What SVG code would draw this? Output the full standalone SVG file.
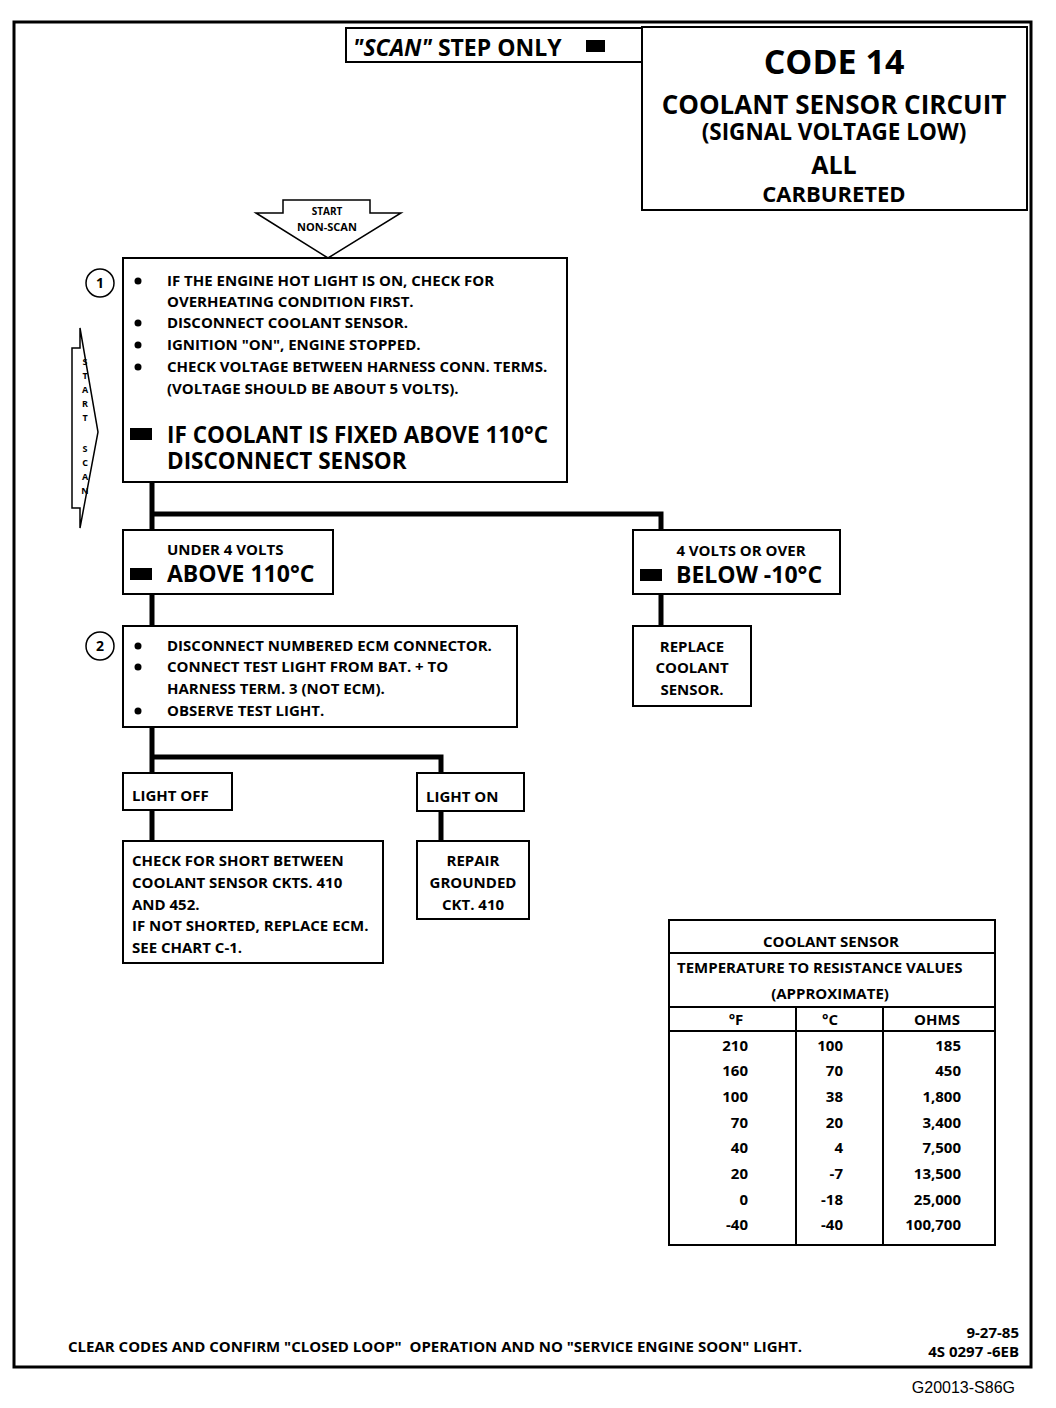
<svg xmlns="http://www.w3.org/2000/svg" width="1056" height="1408" viewBox="0 0 1056 1408">
<style>
text{font-family:"Open Sans","Liberation Sans",sans-serif;font-weight:bold;fill:#000}
.box{fill:#fff;stroke:#000;stroke-width:2}
.conn{fill:none;stroke:#000;stroke-width:5}
.s{font-size:15px}
.b{font-size:23px}
.c{text-anchor:middle}
.r{text-anchor:end}
.blk{fill:#000}
</style>
<rect width="1056" height="1408" fill="#fff"/>
<path d="M14 1367 V22 H1031 V1367 Z" fill="none" stroke="#000" stroke-width="3"/>
<g id="scan-step">
<rect class="box" x="346" y="28" width="296" height="34"/>
<text x="353" y="56" style="font-size:23px"><tspan font-style="italic">"SCAN"</tspan> STEP ONLY</text>
<rect class="blk" x="586" y="40" width="19" height="12"/>
</g>
<g id="title">
<rect class="box" x="642" y="27" width="385" height="183"/>
<text x="834" y="74" class="c" style="font-size:34px">CODE 14</text>
<text x="834" y="114" class="c" style="font-size:26px">COOLANT SENSOR CIRCUIT</text>
<text x="834" y="140" class="c" style="font-size:22.5px">(SIGNAL VOLTAGE LOW)</text>
<text x="834" y="174" class="c" style="font-size:25px">ALL</text>
<text x="834" y="202" class="c" style="font-size:22px">CARBURETED</text>
</g>
<g id="start-nonscan">
<path d="M283 200 H370 V213 H401 L328 258 L256 213 H283 Z" fill="#fff" stroke="#000" stroke-width="1.5"/>
<text x="327" y="215" class="c" style="font-size:10px">START</text>
<text x="327" y="231" class="c" style="font-size:11px">NON-SCAN</text>
</g>
<g id="start-scan">
<path d="M72 348 H80 V328 L98 432 L80 528 V508 H72 Z" fill="#fff" stroke="#000" stroke-width="1.5"/>
<text class="c" style="font-size:9px"><tspan x="85" y="365">S</tspan><tspan x="85" y="379">T</tspan><tspan x="85" y="393">A</tspan><tspan x="85" y="407">R</tspan><tspan x="85" y="421">T</tspan><tspan x="85" y="452">S</tspan><tspan x="85" y="466">C</tspan><tspan x="85" y="480">A</tspan><tspan x="85" y="494">N</tspan></text>
</g>
<g id="connectors">
<path class="conn" d="M152 482 V530 M152 514 H661 V530 M152 594 V626 M661 594 V626 M152 727 V773 M152 757 H441 V773 M152 810 V841 M441 811 V841"/>
</g>
<g id="step1">
<rect class="box" x="123" y="258" width="444" height="224"/>
<circle cx="100" cy="283" r="14" fill="#fff" stroke="#000" stroke-width="1.5"/>
<text x="100" y="288" class="c s" style="font-size:14px">1</text>
<g class="blk"><circle cx="138" cy="281" r="3.5"/><circle cx="138" cy="323" r="3.5"/><circle cx="138" cy="345" r="3.5"/><circle cx="138" cy="367" r="3.5"/></g>
<text class="s"><tspan x="167" y="286">IF THE ENGINE HOT LIGHT IS ON, CHECK FOR</tspan><tspan x="167" y="307">OVERHEATING CONDITION FIRST.</tspan><tspan x="167" y="328">DISCONNECT COOLANT SENSOR.</tspan><tspan x="167" y="350">IGNITION "ON", ENGINE STOPPED.</tspan><tspan x="167" y="372">CHECK VOLTAGE BETWEEN HARNESS CONN. TERMS.</tspan><tspan x="167" y="394">(VOLTAGE SHOULD BE ABOUT 5 VOLTS).</tspan></text>
<rect class="blk" x="130" y="428" width="22" height="12"/>
<text style="font-size:22.5px"><tspan x="167" y="443">IF COOLANT IS FIXED ABOVE 110°C</tspan><tspan x="167" y="469">DISCONNECT SENSOR</tspan></text>
</g>
<g id="under4">
<rect class="box" x="123" y="530" width="210" height="64"/>
<text x="167" y="555" class="s">UNDER 4 VOLTS</text>
<rect class="blk" x="130" y="568" width="22" height="12"/>
<text x="167" y="582" class="b">ABOVE 110°C</text>
</g>
<g id="over4">
<rect class="box" x="633" y="530" width="207" height="64"/>
<text x="741" y="556" class="c s">4 VOLTS OR OVER</text>
<rect class="blk" x="640" y="569" width="22" height="12"/>
<text x="676" y="583" class="b">BELOW -10°C</text>
</g>
<g id="step2">
<rect class="box" x="123" y="626" width="394" height="101"/>
<circle cx="100" cy="646" r="14" fill="#fff" stroke="#000" stroke-width="1.5"/>
<text x="100" y="651" class="c s" style="font-size:14px">2</text>
<g class="blk"><circle cx="138" cy="646" r="3.5"/><circle cx="138" cy="667" r="3.5"/><circle cx="138" cy="711" r="3.5"/></g>
<text class="s"><tspan x="167" y="651">DISCONNECT NUMBERED ECM CONNECTOR.</tspan><tspan x="167" y="672">CONNECT TEST LIGHT FROM BAT. + TO</tspan><tspan x="167" y="694">HARNESS TERM. 3 (NOT ECM).</tspan><tspan x="167" y="716">OBSERVE TEST LIGHT.</tspan></text>
</g>
<g id="replace">
<rect class="box" x="633" y="626" width="118" height="80"/>
<text class="c s"><tspan x="692" y="652">REPLACE</tspan><tspan x="692" y="673">COOLANT</tspan><tspan x="692" y="695">SENSOR.</tspan></text>
</g>
<g id="light-off">
<rect class="box" x="123" y="773" width="109" height="37"/>
<text x="132" y="801" class="s">LIGHT OFF</text>
</g>
<g id="light-on">
<rect class="box" x="417" y="773" width="107" height="38"/>
<text x="426" y="802" class="s">LIGHT ON</text>
</g>
<g id="check-short">
<rect class="box" x="123" y="841" width="260" height="122"/>
<text class="s"><tspan x="132" y="866">CHECK FOR SHORT BETWEEN</tspan><tspan x="132" y="888">COOLANT SENSOR CKTS. 410</tspan><tspan x="132" y="910">AND 452.</tspan><tspan x="132" y="931">IF NOT SHORTED, REPLACE ECM.</tspan><tspan x="132" y="953">SEE CHART C-1.</tspan></text>
</g>
<g id="repair">
<rect class="box" x="417" y="841" width="112" height="78"/>
<text class="c s"><tspan x="473" y="866">REPAIR</tspan><tspan x="473" y="888">GROUNDED</tspan><tspan x="473" y="910">CKT. 410</tspan></text>
</g>
<g id="table">
<rect class="box" x="669" y="920" width="326" height="325"/>
<path d="M669 953 H995 M669 1007 H995 M669 1031 H995 M796 1007 V1245 M883 1007 V1245" stroke="#000" stroke-width="2"/>
<text x="831" y="947" class="c s">COOLANT SENSOR</text>
<text x="677" y="973" class="s">TEMPERATURE TO RESISTANCE VALUES</text>
<text x="830" y="999" class="c s">(APPROXIMATE)</text>
<text y="1025" class="c s"><tspan x="736">°F</tspan><tspan x="830">°C</tspan><tspan x="937">OHMS</tspan></text>
<text class="r s"><tspan x="748" y="1051">210</tspan><tspan x="748" y="1076">160</tspan><tspan x="748" y="1102">100</tspan><tspan x="748" y="1128">70</tspan><tspan x="748" y="1153">40</tspan><tspan x="748" y="1179">20</tspan><tspan x="748" y="1205">0</tspan><tspan x="748" y="1230">-40</tspan></text>
<text class="r s"><tspan x="843" y="1051">100</tspan><tspan x="843" y="1076">70</tspan><tspan x="843" y="1102">38</tspan><tspan x="843" y="1128">20</tspan><tspan x="843" y="1153">4</tspan><tspan x="843" y="1179">-7</tspan><tspan x="843" y="1205">-18</tspan><tspan x="843" y="1230">-40</tspan></text>
<text class="r s"><tspan x="961" y="1051">185</tspan><tspan x="961" y="1076">450</tspan><tspan x="961" y="1102">1,800</tspan><tspan x="961" y="1128">3,400</tspan><tspan x="961" y="1153">7,500</tspan><tspan x="961" y="1179">13,500</tspan><tspan x="961" y="1205">25,000</tspan><tspan x="961" y="1230">100,700</tspan></text>
</g>
<g id="footer">
<text x="68" y="1352" class="s" style="white-space:pre">CLEAR CODES AND CONFIRM "CLOSED LOOP"  OPERATION AND NO "SERVICE ENGINE SOON" LIGHT.</text>
<text x="1019" y="1338" class="r s">9-27-85</text>
<text x="1019" y="1357" class="r s">4S 0297 -6EB</text>
<text x="1015" y="1393" class="r" style="font-size:16px;font-weight:normal;font-family:'Liberation Sans',sans-serif">G20013-S86G</text>
</g>
</svg>
